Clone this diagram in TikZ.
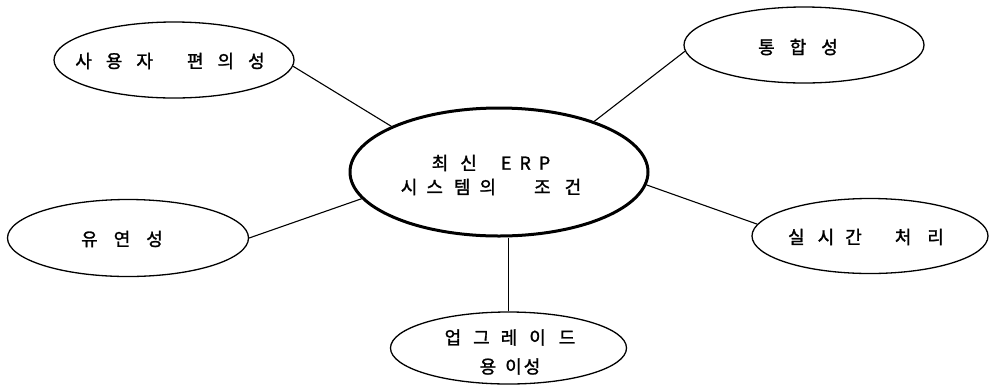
\documentclass[tikz,border=0pt]{standalone}
\usepackage{fontspec}
\newfontfamily\kr[FakeBold=1.5]{Noto Sans CJK KR}
\usetikzlibrary{shapes.geometric}
\newcommand\sg[1]{\hspace{#1pt}}
\begin{document}
\begin{tikzpicture}[x=1pt,y=-1pt,
  oval/.style={draw, ellipse, inner sep=0pt, line width=1.3pt},
  lbl/.style={font=\kr\fontsize{18}{24}\selectfont, inner sep=0pt, align=center},
  conn/.style={line width=1.1pt}]
\useasboundingbox (0,0) rectangle (989,384);
% ellipses
\node[oval, line width=3pt, minimum width=298pt, minimum height=128pt] (c) at (499,172) {};
\node[oval, minimum width=240pt, minimum height=76pt] (tl) at (174,60) {};
\node[oval, minimum width=240pt, minimum height=76pt] (tr) at (804,45) {};
\node[oval, minimum width=241pt, minimum height=77pt] (l) at (128,238) {};
\node[oval, minimum width=236pt, minimum height=75pt] (r) at (870,236) {};
\node[oval, minimum width=236pt, minimum height=72pt] (b) at (508.5,348) {};
% texts
\node[lbl] (tlt) at (170,61) {사\sg{14}용\sg{14}자\sg{34}편\sg{14}의\sg{14}성};
\node[lbl] (trt) at (798,47) {통\sg{15}합\sg{15}성};
\node[lbl] (lt) at (122,239) {유\sg{16}연\sg{16}성};
\node[lbl] (rt) at (866,237) {실\sg{13}시\sg{11}간\sg{33}처\sg{16}리};
\node[lbl] (ct) at (491,175)
  {최\sg{12}신\sg{24}E\sg{8}R\sg{8}P\\시\sg{9}스\sg{11}템\sg{9}의\sg{38}조\sg{14}건};
\node[lbl, font=\kr\fontsize{18}{29}\selectfont] (bt) at (510,352)
  {업\sg{12}그\sg{11}레\sg{12}이\sg{13}드\sg{28}\\용\sg{9}이\sg{2}성};
% connectors
\draw[conn] (tl.-3) -- (c.157);
\draw[conn] (tr.183) -- (c.28);
\draw[conn] (l.east) -- (c.191);
\draw[conn] (r.174) -- (c.-5);
\draw[conn] (b.north) -- (b.north |- c.south);
\end{tikzpicture}
\end{document}
